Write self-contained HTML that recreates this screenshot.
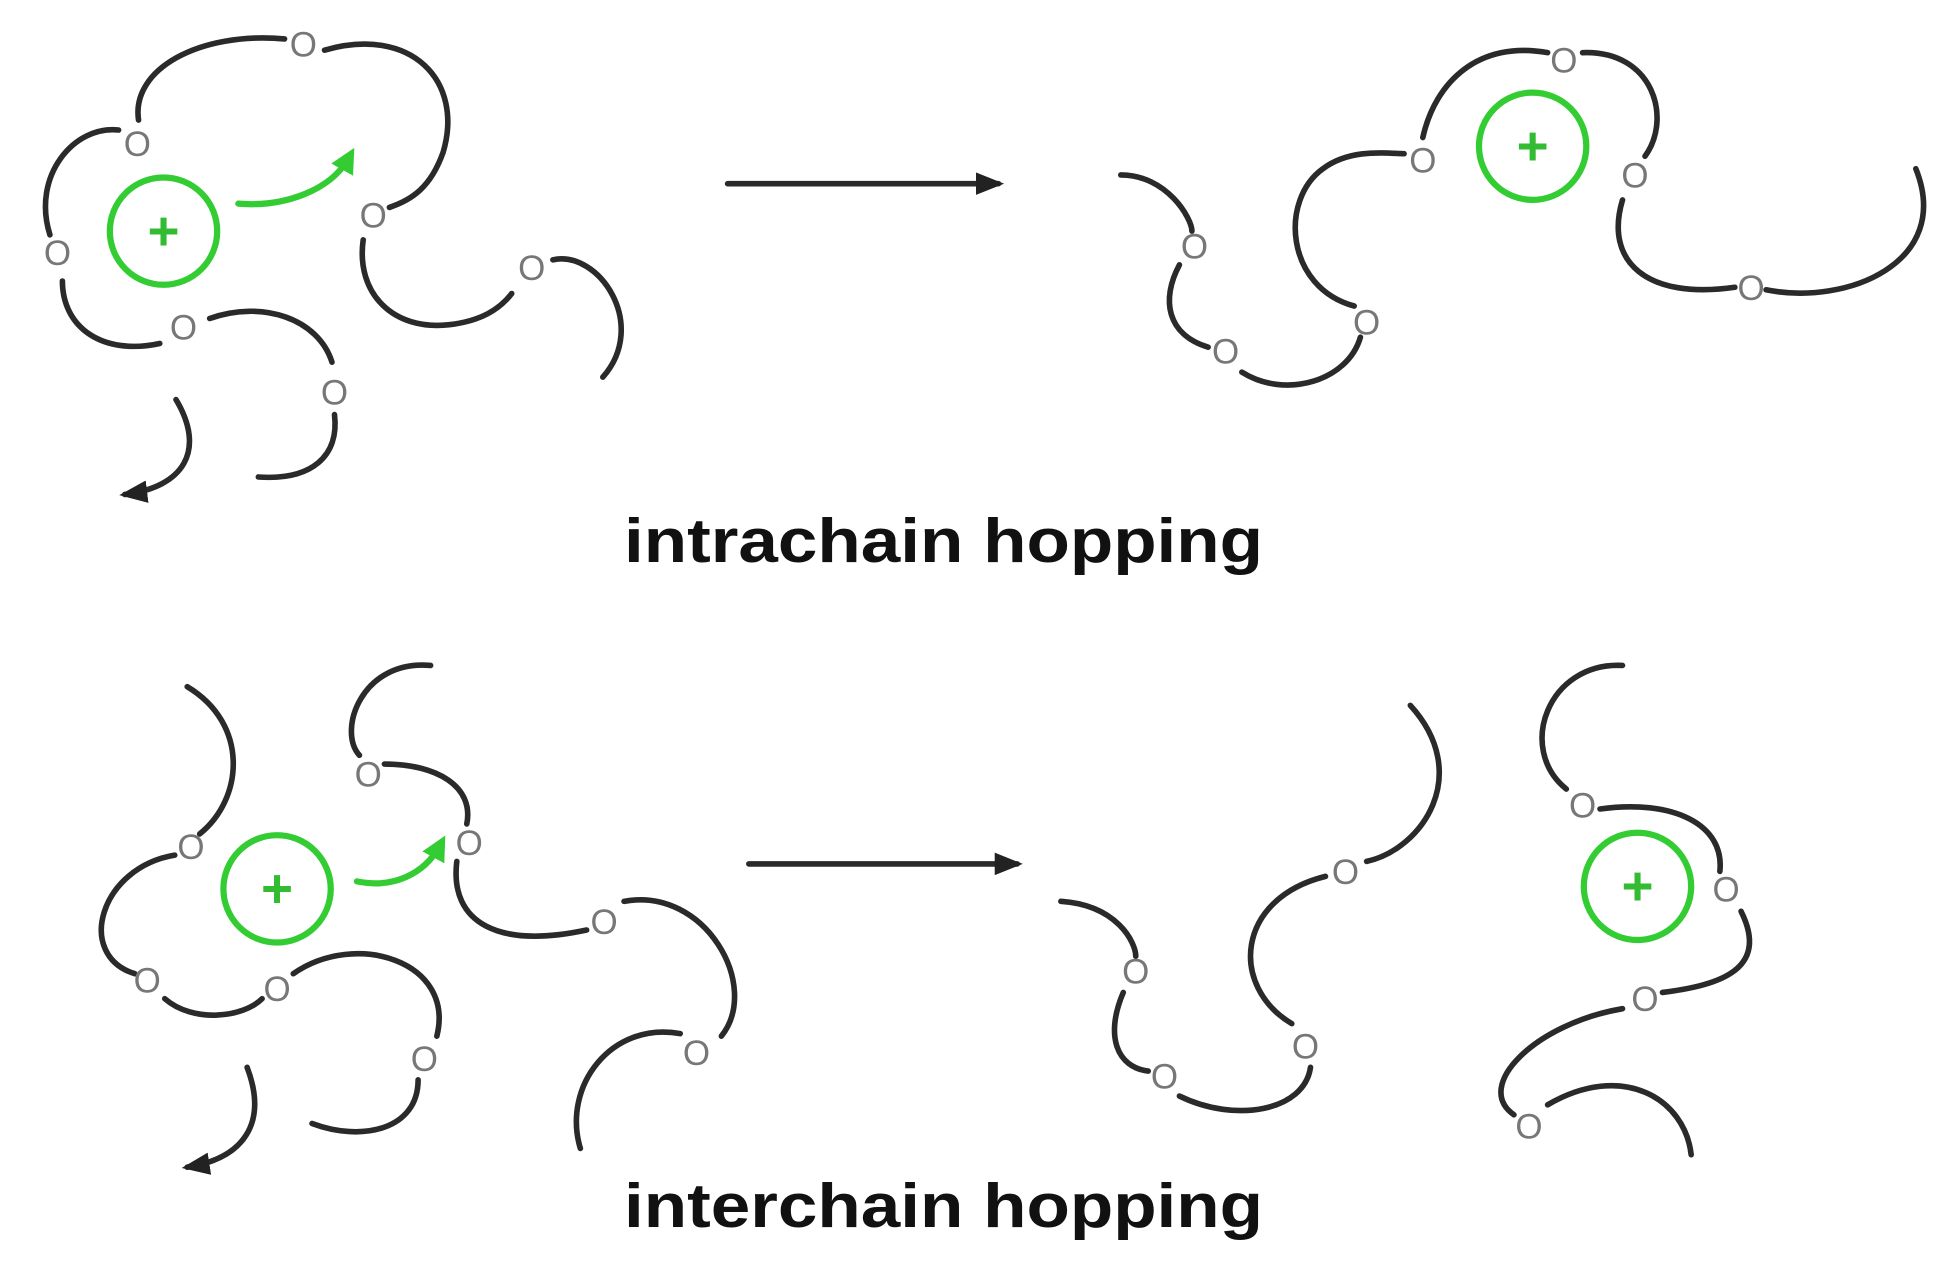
<!DOCTYPE html>
<html><head><style>
html,body{margin:0;padding:0;background:#fff;}
svg{display:block;}
</style></head><body>
<svg width="1957" height="1266" viewBox="0 0 1568 1014" xmlns="http://www.w3.org/2000/svg">
<defs>
<marker id="ab" markerWidth="5" markerHeight="4" refX="4" refY="2" orient="auto" markerUnits="strokeWidth"><path d="M0,0 L5,2 L0,4 Z" fill="#222"/></marker>
<marker id="ag" markerWidth="4" markerHeight="4" refX="2" refY="2" orient="auto" markerUnits="strokeWidth"><path d="M0,0 L4,2 L0,4 Z" fill="#3c3"/></marker>
</defs>
<rect width="1568" height="1014" fill="#fff"/>
<g fill="none" stroke="#2a2a2a" stroke-width="4.5" stroke-linecap="round">
<!-- top left -->
<path d="M111,96 C105,55 160,25 228,31"/>
<path d="M260,40 C330,20 372,65 355,122 C345,150 330,160 312,166"/>
<path d="M95,104 C60,100 25,140 40,188"/>
<path d="M50,225 C50,262 82,285 128,275"/>
<path d="M168,255 C210,240 255,255 266,290"/>
<path d="M268,332 C272,365 250,385 207,382"/>
<path d="M291,192 C285,235 315,265 360,260 C385,257 400,248 410,235"/>
<path d="M443,208 C480,200 520,260 483,302"/>
<path d="M141,320 C165,360 148,390 100,396" marker-end="url(#ab)"/>
<!-- top right -->
<path d="M898,140 C935,140 955,175 955,185"/>
<path d="M945,212 C930,240 935,268 968,278"/>
<path d="M995,298 C1030,320 1080,305 1090,270"/>
<path d="M1085,245 C1030,230 1025,160 1060,135 C1080,120 1105,122 1125,123"/>
<path d="M1140,110 C1150,65 1185,32 1240,42"/>
<path d="M1268,42 C1325,40 1340,95 1318,125"/>
<path d="M1300,160 C1285,210 1320,240 1390,230"/>
<path d="M1415,232 C1480,245 1565,210 1535,135"/>
<!-- bottom left -->
<path d="M150,550 C200,580 195,640 160,668"/>
<path d="M140,685 C80,695 60,765 108,780"/>
<path d="M132,800 C155,820 195,815 210,800"/>
<path d="M235,780 C285,745 365,770 350,830"/>
<path d="M335,865 C335,905 290,915 250,900"/>
<path d="M345,533 C290,528 270,585 288,605"/>
<path d="M308,612 C350,612 380,630 374,660"/>
<path d="M366,690 C360,740 400,760 470,745"/>
<path d="M500,722 C565,710 610,790 578,830"/>
<path d="M545,828 C490,818 450,870 465,920"/>
<path d="M198,855 C215,900 195,928 150,935" marker-end="url(#ab)"/>
<!-- bottom right -->
<path d="M850,722 C895,725 910,755 910,766"/>
<path d="M900,795 C885,830 895,855 920,858"/>
<path d="M945,878 C990,900 1045,890 1050,855"/>
<path d="M1035,820 C985,790 990,720 1062,702"/>
<path d="M1095,690 C1140,680 1180,620 1130,565"/>
<path d="M1300,533 C1240,530 1215,600 1255,632"/>
<path d="M1282,648 C1340,640 1382,660 1378,698"/>
<path d="M1395,730 C1420,780 1370,790 1332,795"/>
<path d="M1300,808 C1230,820 1180,870 1213,893"/>
<path d="M1240,885 C1300,850 1350,880 1355,925"/>
<!-- big arrows -->
<path d="M583,147 L800,147" marker-end="url(#ab)"/>
<path d="M600,692 L815,692" marker-end="url(#ab)"/>
</g>
<g fill="none" stroke="#33cc33" stroke-width="5">
<circle cx="131" cy="185" r="43"/>
<circle cx="1228" cy="117" r="43"/>
<circle cx="222" cy="712" r="43"/>
<circle cx="1312" cy="710" r="43"/>
<path d="M191,163 C228,166 265,152 279,127" marker-end="url(#ag)" stroke-linecap="round"/>
<path d="M286,706 C315,712 340,700 352,678" marker-end="url(#ag)" stroke-linecap="round"/>
</g>
<g fill="#33bb33" font-family="Liberation Sans, sans-serif" font-weight="bold" font-size="44" text-anchor="middle">
<text x="131" y="200">+</text><text x="1228" y="132">+</text><text x="222" y="727">+</text><text x="1312" y="725">+</text>
</g>
<g fill="#777" font-family="Liberation Sans, sans-serif" font-size="28" text-anchor="middle">
<text x="243" y="45">O</text><text x="110" y="125">O</text><text x="299" y="182">O</text><text x="46" y="212">O</text>
<text x="147" y="272">O</text><text x="268" y="324">O</text><text x="426" y="224">O</text>
<text x="957" y="207">O</text><text x="982" y="291">O</text><text x="1095" y="268">O</text><text x="1140" y="138">O</text>
<text x="1253" y="58">O</text><text x="1310" y="150">O</text><text x="1403" y="240">O</text>
<text x="153" y="688">O</text><text x="295" y="630">O</text><text x="376" y="685">O</text><text x="484" y="748">O</text>
<text x="118" y="795">O</text><text x="222" y="802">O</text><text x="340" y="858">O</text><text x="558" y="853">O</text>
<text x="910" y="788">O</text><text x="933" y="872">O</text><text x="1046" y="848">O</text><text x="1078" y="708">O</text>
<text x="1268" y="655">O</text><text x="1383" y="722">O</text><text x="1318" y="810">O</text><text x="1225" y="912">O</text>
</g>
<g fill="#111" font-family="Liberation Sans, sans-serif" font-weight="bold" font-size="50">
<text x="500" y="450" textLength="512" lengthAdjust="spacingAndGlyphs">intrachain hopping</text>
<text x="500" y="983" textLength="512" lengthAdjust="spacingAndGlyphs">interchain hopping</text>
</g>
</svg>
</body></html>
